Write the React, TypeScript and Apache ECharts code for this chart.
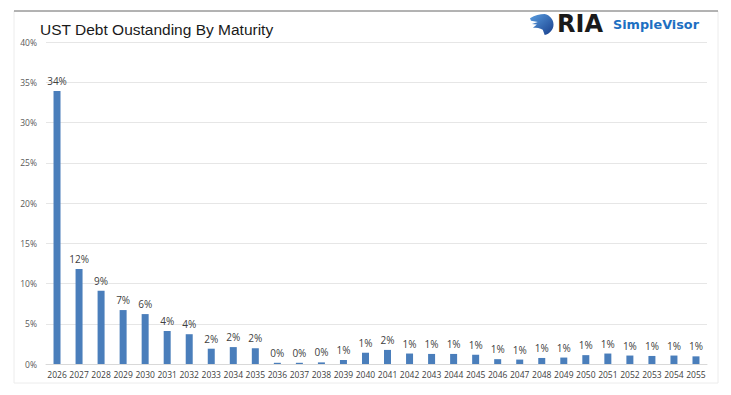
import React, { useEffect, useRef } from "react";
import * as echarts from "echarts";

const categories = [
  "2026", "2027", "2028", "2029", "2030", "2031", "2032", "2033", "2034", "2035",
  "2036", "2037", "2038", "2039", "2040", "2041", "2042", "2043", "2044", "2045",
  "2046", "2047", "2048", "2049", "2050", "2051", "2052", "2053", "2054", "2055",
];
const values = [
  33.9, 11.8, 9.1, 6.7, 6.2, 4.1, 3.7, 1.9, 2.1, 1.95,
  0.15, 0.15, 0.2, 0.5, 1.4, 1.75, 1.3, 1.25, 1.25, 1.15,
  0.6, 0.55, 0.75, 0.8, 1.1, 1.3, 1.05, 1.0, 1.05, 0.95,
];
const labels = [
  "34%", "12%", "9%", "7%", "6%", "4%", "4%", "2%", "2%", "2%",
  "0%", "0%", "0%", "1%", "1%", "2%", "1%", "1%", "1%", "1%",
  "1%", "1%", "1%", "1%", "1%", "1%", "1%", "1%", "1%", "1%",
];
const yTicks = { min: 0, max: 40, interval: 5 };
const title = "UST Debt Oustanding By Maturity";

const eagleD =
  "M0 4 C5 1 10 0 15 0 C20 1 24 5 24 10 C24 15 20 19 15 20 L13 15 C10 13 7 13 3 13 L7 10 L2 9.5 L8 7.5 L1 6.5 Z";
echarts.graphic.registerShape("eaglelogo", echarts.graphic.extendPath(eagleD, {}) as any);

export default function App() {
  const ref = useRef<HTMLDivElement>(null);
  useEffect(() => {
    if (!ref.current) return;
    const chart = echarts.init(ref.current, null, { renderer: "svg" });
    chart.setOption({
      animation: false,
      backgroundColor: "#ffffff",
      textStyle: { fontFamily: "Open Sans" },
      grid: { left: 46, right: 24, top: 42, bottom: 31, containLabel: false },
      xAxis: {
        type: "category",
        data: categories,
        axisLine: { show: true, lineStyle: { color: "#d9d9d9" } },
        axisTick: { show: false },
        axisLabel: { color: "#404040", fontSize: 8.5, margin: 6, interval: 0, fontFamily: "Open Sans" },
      },
      yAxis: {
        type: "value",
        min: yTicks.min,
        max: yTicks.max,
        interval: yTicks.interval,
        axisLine: { show: false },
        axisTick: { show: false },
        splitLine: { lineStyle: { color: "#e6e6e6", width: 1 } },
        axisLabel: {
          color: "#595959",
          fontSize: 8.5,
          margin: 9,
          formatter: (v: number) => `${v}%`,
          fontFamily: "Open Sans",
        },
      },
      series: [
        {
          type: "bar",
          data: values,
          barWidth: 7,
          itemStyle: { color: "#4a7ebb" },
          label: {
            show: true,
            position: "top",
            distance: 5,
            color: "#404040",
            fontSize: 10,
            fontFamily: "Open Sans",
            formatter: (p: any) => labels[p.dataIndex],
          },
        },
      ],
      graphic: [
        {
          type: "rect",
          z: -10,
          shape: { x: 14, y: 11, width: 704, height: 372 },
          style: { fill: "#ffffff", stroke: "#ececec", lineWidth: 1 },
        },
        {
          type: "line",
          shape: { x1: 14, y1: 11, x2: 718, y2: 11 },
          style: { stroke: "#707070", lineWidth: 1.2 },
        },
        {
          type: "text",
          left: 40,
          top: 21,
          style: {
            text: title,
            fontSize: 15.5,
            fill: "#1a1a1a",
            fontFamily: "Liberation Sans",
          },
        },
        {
          type: "eaglelogo",
          x: 530,
          y: 14,
          scaleX: 0.98,
          scaleY: 1.05,
          style: {
            fill: new echarts.graphic.LinearGradient(0, 0, 1, 1, [
              { offset: 0, color: "#5a9ee0" },
              { offset: 1, color: "#173e8c" },
            ]),
          },
        },
        {
          type: "text",
          left: 557,
          top: 12,
          style: {
            text: "RIA",
            fontSize: 24,
            fontWeight: "bold",
            fill: "#1a1a1a",
            fontFamily: "DejaVu Sans",
          },
        },
        {
          type: "text",
          left: 613,
          top: 18,
          style: {
            text: "SimpleVisor",
            fontSize: 12.8,
            fontWeight: "bold",
            fill: "#1d6fc2",
            fontFamily: "DejaVu Sans",
          },
        },
      ],
    });
    return () => chart.dispose();
  }, []);
  return <div ref={ref} style={{ width: 731, height: 395, position: "fixed", left: 0, top: 0 }} />;
}
